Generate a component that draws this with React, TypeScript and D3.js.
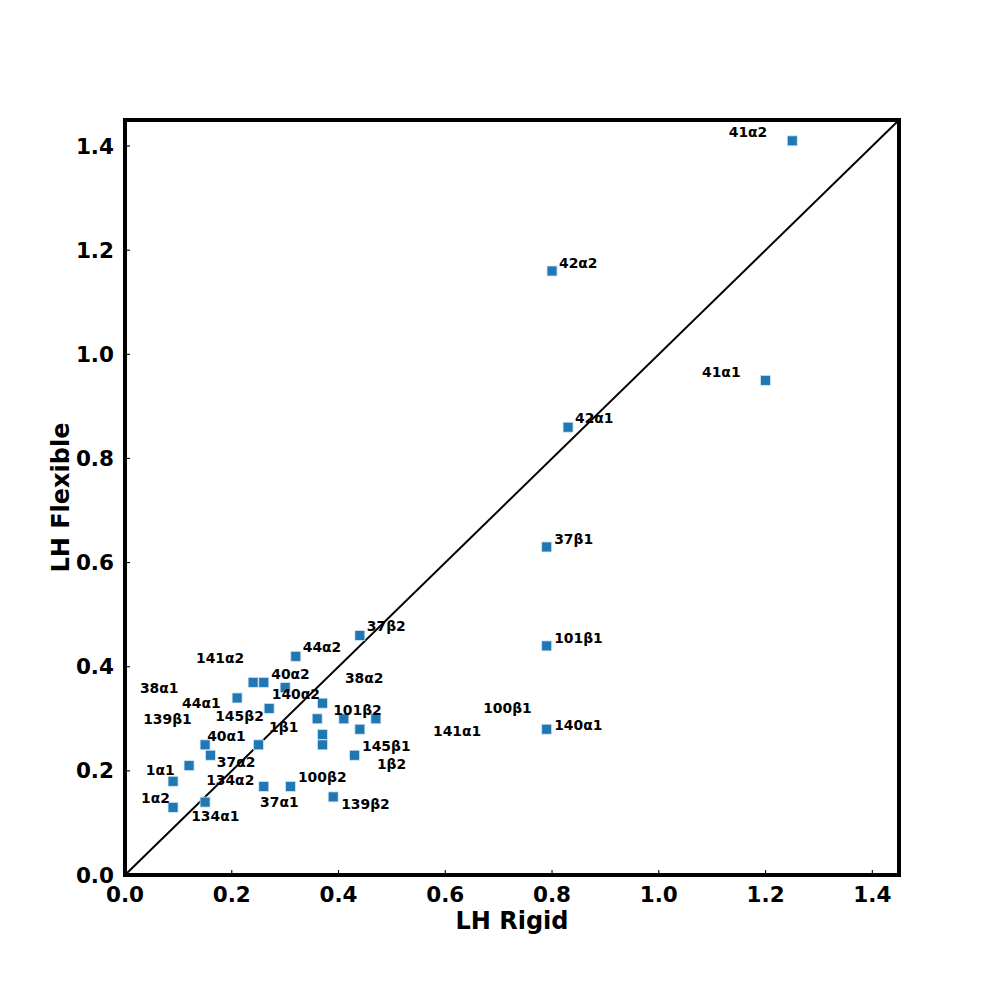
import * as d3 from 'd3';

// sample names, LH rigid (x) and LH flexible (y)
const names = [
  '41α2', '42α2', '41α1', '42α1', '37β1', '101β1', '140α1', '37β2', '44α2',
  '141α2', '40α2', '140α2', '44α1', '145β2', '38α2', '101β2', '100β1', '141α1',
  '38α1', '139β1', '1β2', '1β1', '40α1', '37α2', '145β1', '134α2', '1α1',
  '37α1', '100β2', '139β2', '1α2', '134α1',
];
const rigid = [
  1.25, 0.80, 1.20, 0.83, 0.79, 0.79, 0.79, 0.44, 0.32,
  0.24, 0.26, 0.30, 0.21, 0.27, 0.37, 0.41, 0.47, 0.44,
  0.36, 0.37, 0.37, 0.25, 0.15, 0.16, 0.43, 0.12, 0.09,
  0.26, 0.31, 0.39, 0.09, 0.15,
];
const flexible = [
  1.41, 1.16, 0.95, 0.86, 0.63, 0.44, 0.28, 0.46, 0.42,
  0.37, 0.37, 0.36, 0.34, 0.32, 0.33, 0.30, 0.30, 0.28,
  0.30, 0.27, 0.25, 0.25, 0.25, 0.23, 0.23, 0.21, 0.18,
  0.17, 0.17, 0.15, 0.13, 0.14,
];
// where each annotation text sits, in data units
const labelX = [
  1.131, 0.813, 1.081, 0.843, 0.804, 0.804, 0.804, 0.453, 0.333,
  0.133, 0.274, 0.275, 0.107, 0.169, 0.412, 0.390, 0.671, 0.577,
  0.028, 0.034, 0.472, 0.270, 0.154, 0.172, 0.444, 0.152, 0.039,
  0.253, 0.324, 0.405, 0.030, 0.124,
];
const labelY = [
  1.427, 1.175, 0.966, 0.878, 0.645, 0.455, 0.288, 0.478, 0.438,
  0.417, 0.386, 0.348, 0.330, 0.305, 0.378, 0.317, 0.321, 0.277,
  0.359, 0.300, 0.213, 0.284, 0.267, 0.217, 0.248, 0.182, 0.202,
  0.140, 0.188, 0.136, 0.148, 0.113,
];
const ticks = [0, 0.2, 0.4, 0.6, 0.8, 1.0, 1.2, 1.4];

const font = 'DejaVu Sans, sans-serif';

export default function App() {
  const margin = { top: 120, right: 101, bottom: 125, left: 125 };
  const width = 1000 - margin.left - margin.right;
  const height = 1000 - margin.top - margin.bottom;

  const x = d3.scaleLinear().domain([0, 1.45]).range([0, width]);
  const y = d3.scaleLinear().domain([0, 1.45]).range([height, 0]);

  const diag = d3.line<number>().x(d => x(d)).y(d => y(d))([0, 1.45]) || '';

  return (
    <svg width={1000} height={1000} style={{ position: 'absolute', left: 0, top: 0, background: '#fff' }}>
      <g transform={`translate(${margin.left},${margin.top})`}>
        <path d={diag} fill="none" stroke="#000" strokeWidth={2} />

        {names.map((n, i) => (
          <rect key={'p' + n} x={x(rigid[i]) - 5} y={y(flexible[i]) - 5} width={10} height={10}
            fill="#1f77b4" stroke="#d8e6f2" strokeWidth={0.8} />
        ))}

        {names.map((n, i) => (
          <text key={'t' + n} x={x(labelX[i])} y={y(labelY[i])} dominantBaseline="central"
            fontFamily={font} fontWeight="bold" fontSize={13.9} fill="#000">{n}</text>
        ))}

        {/* ticks, pointing inward */}
        {ticks.map(t => (
          <g key={'x' + t}>
            <line x1={x(t)} x2={x(t)} y1={height} y2={height - 5} stroke="#000" strokeWidth={1.1} />
            <text x={x(t)} y={height + 19.5} textAnchor="middle" dominantBaseline="central"
              fontFamily={font} fontWeight="bold" fontSize={21.5}>{d3.format('.1f')(t)}</text>
          </g>
        ))}
        {ticks.map(t => (
          <g key={'y' + t}>
            <line x1={0} x2={5} y1={y(t)} y2={y(t)} stroke="#000" strokeWidth={1.1} />
            <text x={-11} y={y(t)} textAnchor="end" dominantBaseline="central"
              fontFamily={font} fontWeight="bold" fontSize={21.5}>{d3.format('.1f')(t)}</text>
          </g>
        ))}

        <rect x={0} y={0} width={width} height={height} fill="none" stroke="#000" strokeWidth={4} />

        <text x={width / 2} y={height + 46} textAnchor="middle" dominantBaseline="central"
          fontFamily={font} fontWeight="bold" fontSize={24}>LH Rigid</text>
        <text transform={`translate(-64,${height / 2}) rotate(-90)`} textAnchor="middle" dominantBaseline="central"
          fontFamily={font} fontWeight="bold" fontSize={24}>LH Flexible</text>
      </g>
    </svg>
  );
}
